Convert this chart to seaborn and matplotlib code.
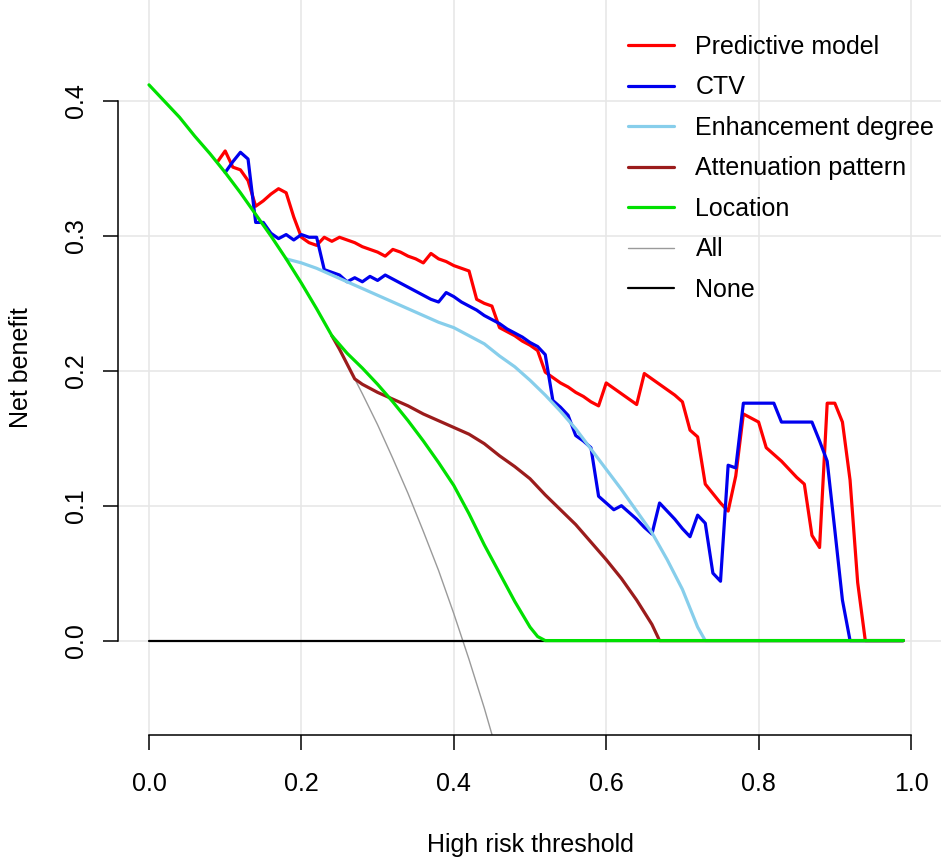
import numpy as np
import pandas as pd
import matplotlib
matplotlib.use("Agg")
import matplotlib.pyplot as plt
import seaborn as sns

# net benefit (thresholds in steps of 0.01)
thr_model = np.arange(9, 100) / 100
nb_model = [
    0.355, 0.363, 0.351, 0.349, 0.341, 0.322, 0.326, 0.331, 0.335, 0.332,
    0.314, 0.299, 0.295, 0.293, 0.299, 0.296, 0.299, 0.297, 0.295, 0.292,
    0.290, 0.288, 0.285, 0.290, 0.288, 0.285, 0.283, 0.280, 0.287, 0.283,
    0.281, 0.278, 0.276, 0.274, 0.253, 0.250, 0.248, 0.232, 0.229, 0.226,
    0.222, 0.219, 0.215, 0.199, 0.195, 0.191, 0.188, 0.184, 0.181, 0.177,
    0.174, 0.191, 0.187, 0.183, 0.179, 0.175, 0.198, 0.194, 0.190, 0.186,
    0.182, 0.177, 0.156, 0.151, 0.116, 0.109, 0.102, 0.096, 0.122, 0.168,
    0.165, 0.162, 0.143, 0.138, 0.133, 0.127, 0.121, 0.116, 0.078, 0.069,
    0.176, 0.176, 0.162, 0.119, 0.043, 0.000, 0.000, 0.000, 0.000, 0.000,
    0.000,
]

thr_ctv = np.arange(10, 100) / 100
nb_ctv = [
    0.347, 0.355, 0.362, 0.357, 0.310, 0.310, 0.302, 0.298, 0.301, 0.297,
    0.301, 0.299, 0.299, 0.275, 0.273, 0.271, 0.266, 0.269, 0.266, 0.270,
    0.267, 0.271, 0.268, 0.265, 0.262, 0.259, 0.256, 0.253, 0.251, 0.258,
    0.255, 0.251, 0.248, 0.245, 0.241, 0.238, 0.235, 0.231, 0.228, 0.225,
    0.221, 0.218, 0.212, 0.178, 0.173, 0.167, 0.152, 0.148, 0.143, 0.107,
    0.102, 0.097, 0.100, 0.095, 0.090, 0.084, 0.079, 0.102, 0.096, 0.090,
    0.083, 0.077, 0.093, 0.087, 0.050, 0.044, 0.130, 0.128, 0.176, 0.176,
    0.176, 0.176, 0.176, 0.162, 0.162, 0.162, 0.162, 0.162, 0.148, 0.133,
    0.082, 0.030, 0.000, 0.000, 0.000, 0.000, 0.000, 0.000, 0.000, 0.000,
]

thr_enh = [0.18, 0.20, 0.22, 0.24, 0.26, 0.28, 0.30, 0.32, 0.34, 0.36,
           0.38, 0.40, 0.42, 0.44, 0.46, 0.48, 0.50, 0.52, 0.54, 0.56,
           0.58, 0.60, 0.62, 0.64, 0.66, 0.68, 0.70, 0.72, 0.73, 0.99]
nb_enh = [0.283, 0.280, 0.276, 0.271, 0.266, 0.261, 0.256, 0.251, 0.246, 0.241,
          0.236, 0.232, 0.226, 0.220, 0.211, 0.203, 0.193, 0.182, 0.170, 0.157,
          0.142, 0.127, 0.112, 0.096, 0.080, 0.060, 0.038, 0.010, 0.000, 0.000]

thr_att = [0.24, 0.25, 0.26, 0.27, 0.28, 0.30, 0.32, 0.34, 0.36, 0.38,
           0.40, 0.42, 0.44, 0.46, 0.48, 0.50, 0.52, 0.54, 0.56, 0.58,
           0.60, 0.62, 0.64, 0.66, 0.67, 0.99]
nb_att = [0.226, 0.216, 0.205, 0.194, 0.190, 0.184, 0.179, 0.174, 0.168, 0.163,
          0.158, 0.153, 0.146, 0.137, 0.129, 0.120, 0.108, 0.097, 0.086, 0.073,
          0.060, 0.046, 0.030, 0.012, 0.000, 0.000]

thr_loc = [0.00, 0.02, 0.04, 0.06, 0.08, 0.10, 0.12, 0.14, 0.16, 0.18,
           0.20, 0.22, 0.24, 0.26, 0.28, 0.30, 0.32, 0.34, 0.36, 0.38,
           0.40, 0.42, 0.44, 0.46, 0.48, 0.50, 0.51, 0.52, 0.99]
nb_loc = [0.412, 0.400, 0.388, 0.374, 0.361, 0.347, 0.332, 0.316, 0.300, 0.283,
          0.265, 0.246, 0.226, 0.213, 0.202, 0.190, 0.177, 0.163, 0.148, 0.132,
          0.115, 0.094, 0.071, 0.050, 0.029, 0.010, 0.003, 0.000, 0.000]

thr_all = [0.00, 0.02, 0.04, 0.06, 0.08, 0.10, 0.12, 0.14, 0.16, 0.18,
           0.20, 0.22, 0.24, 0.26, 0.28, 0.30, 0.32, 0.34, 0.36, 0.38,
           0.40, 0.42, 0.44, 0.46, 0.48, 0.50]
nb_all = [0.412, 0.400, 0.388, 0.374, 0.361, 0.347, 0.332, 0.316, 0.300, 0.283,
          0.265, 0.246, 0.226, 0.205, 0.183, 0.160, 0.135, 0.109, 0.081, 0.052,
          0.020, -0.014, -0.050, -0.089, -0.131, -0.176]

thr_none = [0.00, 0.99]
nb_none = [0.0, 0.0]

labels = ["Predictive model", "CTV", "Enhancement degree", "Attenuation pattern",
          "Location", "All", "None"]
colors = ["#ff0000", "#0000ee", "#87ceeb", "#9b1c1c", "#00e000", "#9a9a9a", "#000000"]

sns.set_style("white")
plt.rcParams["font.family"] = ["Liberation Sans", "DejaVu Sans"]
plt.rcParams["text.color"] = "black"
plt.rcParams["axes.labelcolor"] = "black"

fig = plt.figure(figsize=(9.45, 8.59), dpi=100)
ax = fig.add_axes([118.5 / 945, 124 / 859, 823 / 945, 735 / 859])

# reference lines first, model curves on top
sns.lineplot(x=thr_all, y=nb_all, ax=ax, color=colors[5], lw=1.0, label=labels[5], zorder=2)
sns.lineplot(x=thr_none, y=nb_none, ax=ax, color=colors[6], lw=1.6, label=labels[6], zorder=2)

series = [(thr_model, nb_model), (thr_ctv, nb_ctv), (thr_enh, nb_enh),
          (thr_att, nb_att), (thr_loc, nb_loc)]
for (tx, ty), lab, col in zip(series, labels[:5], colors[:5]):
    sns.lineplot(x=tx, y=ty, ax=ax, color=col, lw=2.3, label=lab, zorder=3)

ax.set_xlim(-0.04, 1.04)
ax.set_ylim(-0.07, 0.4749)
ax.set_xticks([0.0, 0.2, 0.4, 0.6, 0.8, 1.0])
ax.set_yticks([0.0, 0.1, 0.2, 0.3, 0.4])
ax.set_xticklabels(["0.0", "0.2", "0.4", "0.6", "0.8", "1.0"])
ax.set_yticklabels(["0.0", "0.1", "0.2", "0.3", "0.4"], rotation=90, va="center")
ax.grid(True, color="#e6e6e6", lw=1.1, zorder=0)

for s in ["top", "right"]:
    ax.spines[s].set_visible(False)
ax.spines["left"].set_bounds(0.0, 0.4)
ax.spines["bottom"].set_bounds(0.0, 1.0)
for s in ["left", "bottom"]:
    ax.spines[s].set_linewidth(1.1)
    ax.spines[s].set_color("black")
ax.tick_params(axis="both", direction="out", length=11, width=1.1, labelsize=18,
               colors="black", bottom=True, left=True)
ax.tick_params(axis="x", pad=15.5)
ax.tick_params(axis="y", pad=11)

ax.set_xlabel("High risk threshold", fontsize=18)
ax.set_ylabel("Net benefit", fontsize=18)
ax.xaxis.set_label_coords(0.5, (735 - 845) / 735)
ax.xaxis.label.set_va("center")
ax.yaxis.set_label_coords((21 - 118.5) / 823, 0.5)
ax.yaxis.label.set_va("center")

handles, labs = ax.get_legend_handles_labels()
order = [labs.index(l) for l in labels]
ax.legend([handles[i] for i in order], [labs[i] for i in order],
          loc="upper left", bbox_to_anchor=(628 / 945, 1 - 35 / 859),
          bbox_transform=fig.transFigure, frameon=False, fontsize=18,
          handlelength=1.85, handletextpad=0.85, labelspacing=0.66,
          borderpad=0, borderaxespad=0)

fig.savefig("out.png", dpi=100)
